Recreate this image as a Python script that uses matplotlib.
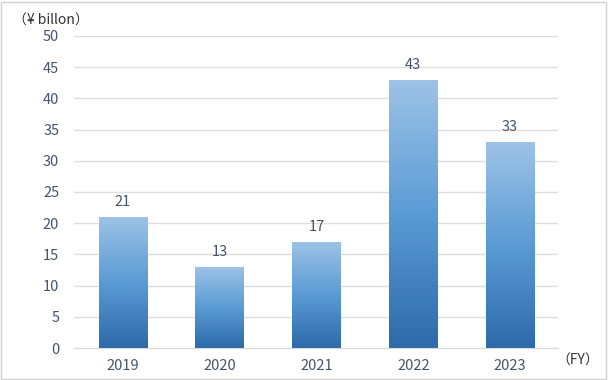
import numpy as np
import matplotlib.pyplot as plt
from matplotlib.colors import LinearSegmentedColormap
from matplotlib.patches import Rectangle

plt.rcParams['font.family'] = ['Noto Sans CJK JP', 'DejaVu Sans']

years = ['2019', '2020', '2021', '2022', '2023']
values = [21, 13, 17, 43, 33]

txt = '#44546A'
cmap = LinearSegmentedColormap.from_list('bar', ['#2C6AAA', '#5B9BD5', '#9DC3E6'])

fig = plt.figure(figsize=(6.08, 3.8), dpi=100)
fig.patches.append(Rectangle((0.002, 0.003), 0.995, 0.993, transform=fig.transFigure,
                             fill=False, edgecolor='#D0D0D0', linewidth=1))
ax = fig.add_axes([0.1225, 0.0842, 0.796, 0.8211])

x = np.arange(len(years))
w = 0.5
grad = np.linspace(0, 1, 256).reshape(-1, 1)
bars = ax.bar(x, values, width=w, color='none', edgecolor='none', zorder=2)
for b, v in zip(bars, values):
    im = ax.imshow(grad, cmap=cmap, origin='lower', aspect='auto',
                   extent=[b.get_x(), b.get_x() + w, 0, v], zorder=2)
    im.set_clip_path(b)
    ax.text(b.get_x() + w / 2, v + 1.3, str(v), ha='center', va='bottom',
            fontsize=10.5, color=txt)

ax.set_xlim(-0.5, len(years) - 0.5)
ax.set_ylim(0, 50)
ax.set_yticks(range(0, 51, 5))
ax.set_xticks(x)
ax.set_xticklabels(years)
ax.yaxis.grid(True, color='#DEDEDE', linewidth=1)
ax.set_axisbelow(True)
for s in ['top', 'right', 'left']:
    ax.spines[s].set_visible(False)
ax.spines['bottom'].set_color('#D9D9D9')
ax.tick_params(length=0, labelsize=10.5, labelcolor=txt)
ax.tick_params(axis='y', pad=11)
ax.tick_params(axis='x', pad=8)

fig.text(0.022, 0.945, '（¥ billon）', fontsize=10, color='#333333', ha='left', va='center')
fig.text(0.915, 0.05, '（FY）', fontsize=10, color='#333333', ha='left', va='center')

fig.savefig('out.png', dpi=100)
